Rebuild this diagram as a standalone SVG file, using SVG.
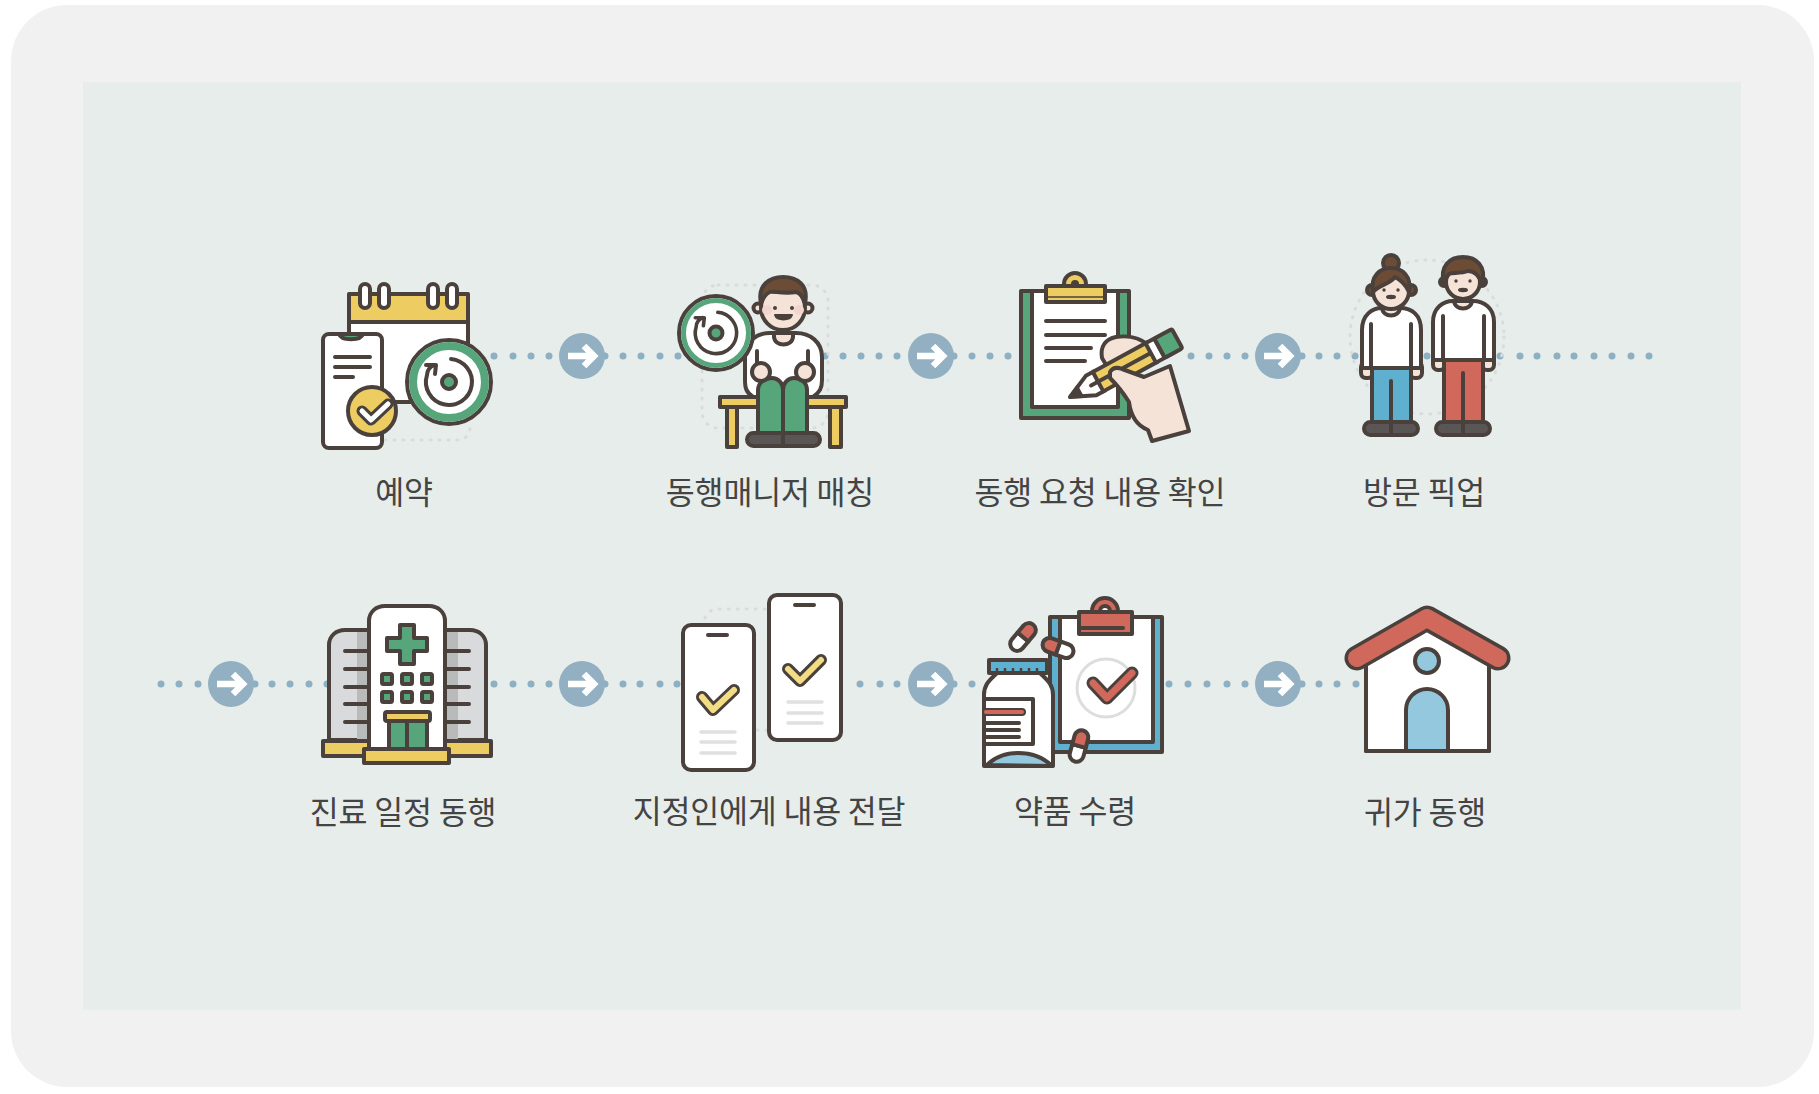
<svg xmlns="http://www.w3.org/2000/svg" width="1819" height="1094" viewBox="0 0 1819 1094">
<style>
.s{stroke:#4a413d;stroke-width:4;stroke-linejoin:round;stroke-linecap:round}
.n{fill:none}
.w{fill:#fff}
.y{fill:#edcd62}
.g{fill:#57a57b}
.k{fill:#f5e3d7}
.b{fill:#5fb0cf}
.lb{fill:#94c8de}
.r{fill:#d0695c}
.h{fill:#6d4c36}
.sh{fill:#5a5656}
.d{fill:#4a413d}
.gd{fill:none;stroke:#d9dcdb;stroke-width:3;stroke-dasharray:1 8;stroke-linecap:round}
.gl{stroke:#dfe0df;stroke-width:3.5;stroke-linecap:round;fill:none}
.t{font-family:"Noto Sans CJK KR","Noto Sans",sans-serif;font-size:31.5px;fill:#444;text-anchor:middle;letter-spacing:-.2px}
.dots circle{fill:#8db0c2}
</style>
<defs>
<g id="badge"><circle r="23" fill="#92b0c2"/><path d="M-14,0H11M2,-10L12,0L2,10" fill="none" stroke="#fff" stroke-width="6.5" stroke-linejoin="miter"/></g>
<g id="spin"><path class="n" stroke="#4a413d" stroke-width="4" stroke-linecap="round" stroke-linejoin="round" d="M2,-23A23,23 0 1 1 -22,-7C-22,-12 -19,-15 -15,-17M-23,-17L-13,-17L-14,-8"/></g>
<g id="pill"><path class="s w" d="M-7,0V9A7,7 0 0 0 7,9V0Z"/><path class="s r" d="M-7,0V-9A7,7 0 0 1 7,-9V0Z"/></g>
</defs>

<rect x="11" y="5" width="1803" height="1082" rx="56" fill="#f1f1f1"/>
<rect x="83" y="82" width="1658" height="928" fill="#e7edeb"/>

<g id="connectors">
<g class="dots">
<circle cx="494" cy="356" r="3.5"/><circle cx="513" cy="356" r="3.5"/><circle cx="531" cy="356" r="3.5"/><circle cx="549" cy="356" r="3.5"/><circle cx="605" cy="356" r="3.5"/><circle cx="623" cy="356" r="3.5"/><circle cx="641" cy="356" r="3.5"/><circle cx="660" cy="356" r="3.5"/><circle cx="678" cy="356" r="3.5"/>
<circle cx="825" cy="356" r="3.5"/><circle cx="843" cy="356" r="3.5"/><circle cx="861" cy="356" r="3.5"/><circle cx="879" cy="356" r="3.5"/><circle cx="897" cy="356" r="3.5"/><circle cx="954" cy="356" r="3.5"/><circle cx="972" cy="356" r="3.5"/><circle cx="990" cy="356" r="3.5"/><circle cx="1008" cy="356" r="3.5"/>
<circle cx="1191" cy="356" r="3.5"/><circle cx="1209" cy="356" r="3.5"/><circle cx="1227" cy="356" r="3.5"/><circle cx="1245" cy="356" r="3.5"/><circle cx="1302" cy="356" r="3.5"/><circle cx="1319" cy="356" r="3.5"/><circle cx="1337" cy="356" r="3.5"/><circle cx="1355" cy="356" r="3.5"/><circle cx="1427" cy="356" r="3.5"/><circle cx="1500" cy="356" r="3.5"/><circle cx="1520" cy="356" r="3.5"/><circle cx="1537" cy="356" r="3.5"/><circle cx="1557" cy="356" r="3.5"/><circle cx="1574" cy="356" r="3.5"/><circle cx="1594" cy="356" r="3.5"/><circle cx="1612" cy="356" r="3.5"/><circle cx="1631" cy="356" r="3.5"/><circle cx="1649" cy="356" r="3.5"/>
<circle cx="161" cy="684" r="3.5"/><circle cx="179" cy="684" r="3.5"/><circle cx="198" cy="684" r="3.5"/><circle cx="255" cy="684" r="3.5"/><circle cx="272" cy="684" r="3.5"/><circle cx="290" cy="684" r="3.5"/><circle cx="309" cy="684" r="3.5"/><circle cx="327" cy="684" r="3.5"/>
<circle cx="494" cy="684" r="3.5"/><circle cx="513" cy="684" r="3.5"/><circle cx="531" cy="684" r="3.5"/><circle cx="549" cy="684" r="3.5"/><circle cx="605" cy="684" r="3.5"/><circle cx="623" cy="684" r="3.5"/><circle cx="640" cy="684" r="3.5"/><circle cx="660" cy="684" r="3.5"/><circle cx="677" cy="684" r="3.5"/>
<circle cx="860" cy="684" r="3.5"/><circle cx="880" cy="684" r="3.5"/><circle cx="897" cy="684" r="3.5"/><circle cx="954" cy="684" r="3.5"/><circle cx="972" cy="684" r="3.5"/>
<circle cx="1169" cy="684" r="3.5"/><circle cx="1188" cy="684" r="3.5"/><circle cx="1207" cy="684" r="3.5"/><circle cx="1227" cy="684" r="3.5"/><circle cx="1245" cy="684" r="3.5"/><circle cx="1302" cy="684" r="3.5"/><circle cx="1319" cy="684" r="3.5"/><circle cx="1337" cy="684" r="3.5"/><circle cx="1356" cy="684" r="3.5"/>
</g>
<use href="#badge" x="582" y="356"/><use href="#badge" x="931" y="356"/><use href="#badge" x="1278" y="356"/>
<use href="#badge" x="231" y="684"/><use href="#badge" x="582" y="684"/><use href="#badge" x="931" y="684"/><use href="#badge" x="1278" y="684"/>
</g>

<g id="node-1">
<path class="gd" d="M385,440H458Q468,440 470,428"/>
<rect class="s w" x="349" y="294" width="119" height="108" rx="2"/>
<rect class="s y" x="349" y="294" width="119" height="28"/>
<g class="s w"><rect x="360" y="284" width="10" height="24" rx="5"/><rect x="379" y="284" width="10" height="24" rx="5"/><rect x="428" y="284" width="10" height="24" rx="5"/><rect x="447" y="284" width="10" height="24" rx="5"/></g>
<rect class="s w" x="323" y="334" width="59" height="114" rx="6"/>
<path class="s g" d="M339,334H363C361,341 341,341 339,334Z"/>
<path class="s n" d="M335,357H370M335,367H370M335,377H353"/>
<circle class="s y" cx="372" cy="411" r="24"/>
<path class="n" stroke="#4a413d" stroke-width="11" stroke-linecap="round" stroke-linejoin="round" d="M362,411L371,420L388,404"/>
<path class="n" stroke="#fff" stroke-width="5" stroke-linecap="round" stroke-linejoin="round" d="M362,411L371,420L388,404"/>
<circle class="s w" cx="449" cy="382" r="42"/>
<circle class="n" stroke="#57a57b" stroke-width="8" cx="449" cy="382" r="36"/>
<use href="#spin" x="449" y="382"/>
<circle class="s g" cx="449" cy="382" r="7"/>
<text class="t" x="404" y="504">예약</text>
</g>

<g id="node-2">
<rect class="gd" x="702" y="285" width="126" height="143" rx="16"/>
<rect class="s y" x="720" y="397" width="126" height="10"/>
<rect class="s y" x="727" y="407" width="10" height="40"/>
<rect class="s y" x="830" y="407" width="11" height="40"/>
<path class="s w" d="M753,397C746,392 745,388 745,380V357C745,342 756,333 770,333H796C810,333 822,342 822,357V380C822,388 820,392 813,397Z"/>
<path class="s k" d="M774,333H793V337C792,347 775,347 774,337Z"/>
<path class="s n" d="M757,351V366M808,351V366"/>
<path class="s g" d="M758,433V390C758,382 766,378 772,378C778,378 783,383 783,390V433Z"/>
<path class="s g" d="M783,433V390C783,383 788,378 794,378C800,378 807,382 807,390V433Z"/>
<rect class="s sh" x="747" y="433" width="73" height="13" rx="6.5"/>
<path class="s n" d="M783,433V446"/>
<circle class="s k" cx="761" cy="372" r="9"/><circle class="s k" cx="805" cy="372" r="9"/>
<circle class="s k" cx="758" cy="308" r="4.5"/><circle class="s k" cx="808" cy="308" r="4.5"/>
<circle class="s k" cx="783" cy="308" r="22"/>
<circle cx="767" cy="310" r="5" fill="#f3d5cf"/><circle cx="799" cy="310" r="5" fill="#f3d5cf"/>
<path class="s h" d="M761,303C757,285 770,277 783,277C797,277 809,285 805,303C803,296 800,293 796,292C785,294 772,291 770,292C765,294 763,298 761,303Z"/>
<circle class="d" cx="775" cy="308" r="2"/><circle class="d" cx="792" cy="308" r="2"/>
<path class="d" stroke="#4a413d" stroke-width="2" stroke-linejoin="round" d="M775,315H792C790,321 777,321 775,315Z"/>
<circle class="s w" cx="716" cy="333" r="37"/>
<circle class="n" stroke="#57a57b" stroke-width="5" cx="716" cy="333" r="32.5"/>
<g transform="translate(716,333) scale(.9)"><use href="#spin"/></g>
<circle class="s g" cx="716" cy="333" r="6.5"/>
<text class="t" x="770" y="504">동행매니저 매칭</text>
</g>

<g id="node-3">
<rect class="s g" x="1021" y="291" width="108" height="127"/>
<rect class="s w" x="1032" y="291" width="86" height="116"/>
<circle class="s y" cx="1075" cy="284" r="11"/><circle class="d" cx="1075" cy="284" r="4"/>
<rect class="s y" x="1046" y="286" width="59" height="16"/>
<path stroke="#4a413d" stroke-width="1.5" d="M1048,297H1103"/>
<path class="s n" d="M1046,321H1105M1046,335H1105M1046,348H1091M1046,361H1085"/>
<path class="s k" d="M1102,358C1100,346 1106,339 1116,337C1128,335 1140,338 1148,345L1130,372L1108,368Z"/>
<g transform="translate(1070,397) rotate(-28.6)">
<path class="s w" d="M0,0L24,-11H34V11H24Z"/>
<path class="d" d="M0,0L11,-5.5V5.5Z" stroke="#4a413d" stroke-width="3" stroke-linejoin="round"/>
<rect class="s y" x="32" y="-11" width="62" height="22"/>
<path class="s n" d="M24,0H94"/>
<rect class="s w" x="92" y="-11" width="10" height="22"/>
<rect class="s g" x="102" y="-11" width="20" height="22" rx="2"/>
</g>
<path class="s k" d="M1110,372C1113,367 1117,367 1122,369L1144,377L1170,366L1189,431L1152,441L1148,430C1138,426 1131,418 1129,402C1124,394 1116,384 1110,378Z"/>
<text class="t" x="1100" y="504">동행 요청 내용 확인</text>
</g>

<g id="node-4">
<circle class="gd" cx="1427" cy="337" r="77"/>
<rect class="s k" x="1361" y="362" width="12" height="16" rx="5"/><rect class="s k" x="1410" y="362" width="12" height="16" rx="5"/>
<path class="s w" d="M1362,368V330C1362,315 1372,308 1382,308H1400C1412,308 1421,315 1421,330V368H1411V368H1372Z"/>
<path class="s n" d="M1371,324V368M1411,324V368"/>
<path class="s k" d="M1382,308H1400C1399,318 1383,318 1382,308Z"/>
<rect class="s b" x="1372" y="368" width="39" height="55"/>
<rect class="s sh" x="1364" y="422" width="54" height="13" rx="6.5"/>
<path class="s n" d="M1391,381V434"/>
<circle class="s h" cx="1391" cy="263" r="8"/>
<circle class="s h" cx="1372" cy="290" r="5"/><circle class="s h" cx="1411" cy="290" r="5"/>
<circle class="s k" cx="1391" cy="291" r="18"/>
<path class="s h" d="M1373,292C1370,276 1380,268 1391,268C1402,268 1412,276 1409,292C1405,283 1399,279 1395,277C1390,284 1379,285 1373,292Z"/>
<circle class="d" cx="1384" cy="290" r="1.7"/><circle class="d" cx="1398" cy="290" r="1.7"/>
<ellipse class="d" cx="1391" cy="297" rx="5" ry="2.2"/>

<rect class="s k" x="1433" y="354" width="12" height="16" rx="5"/><rect class="s k" x="1482" y="354" width="12" height="16" rx="5"/>
<path class="s w" d="M1433,360V322C1433,308 1443,301 1453,301H1473C1484,301 1494,308 1494,322V360Z"/>
<path class="s n" d="M1443,316V360M1484,316V360"/>
<path class="s k" d="M1454,301H1472C1471,311 1455,311 1454,301Z"/>
<rect class="s r" x="1444" y="360" width="39" height="63"/>
<rect class="s sh" x="1436" y="422" width="54" height="13" rx="6.5"/>
<path class="s n" d="M1463,373V434"/>
<circle class="s h" cx="1444" cy="282" r="4"/><circle class="s h" cx="1482" cy="282" r="4"/>
<circle class="s k" cx="1463" cy="282" r="17"/>
<path class="s h" d="M1444,284C1439,266 1450,257 1463,257C1476,257 1487,266 1482,284C1479,275 1474,271 1468,271C1460,274 1452,272 1449,274C1446,277 1445,280 1444,284Z"/>
<circle class="d" cx="1456" cy="281" r="1.7"/><circle class="d" cx="1470" cy="281" r="1.7"/>
<ellipse class="d" cx="1463" cy="290" rx="5" ry="2.2"/>
<text class="t" x="1424" y="504">방문 픽업</text>
</g>

<g id="node-5">
<path class="s" fill="#d9dadb" d="M329,740V645C329,636 336,630 345,630H369V740Z"/>
<rect x="357" y="632" width="11" height="107" fill="#b9bbbb"/>
<path class="s" fill="#d9dadb" d="M486,740V645C486,636 479,630 470,630H445V740Z"/>
<rect x="447" y="632" width="11" height="107" fill="#b9bbbb"/>
<path class="s n" d="M345,651H369M345,669H369M345,687H369M345,704H369M345,722H369M445,651H469M445,669H469M445,687H469M445,704H469M445,722H469"/>
<rect class="s y" x="323" y="741" width="168" height="15"/>
<path class="s w" d="M369,749V621C369,612 376,606 385,606H429C438,606 445,612 445,621V749Z"/>
<path class="s g" d="M400,625H414V638H427V651H414V664H400V651H387V638H400Z"/>
<g class="s g"><rect x="382" y="674" width="10" height="10" rx="1.5"/><rect x="402" y="674" width="10" height="10" rx="1.5"/><rect x="422" y="674" width="10" height="10" rx="1.5"/><rect x="382" y="692" width="10" height="10" rx="1.5"/><rect x="402" y="692" width="10" height="10" rx="1.5"/><rect x="422" y="692" width="10" height="10" rx="1.5"/></g>
<rect class="s g" x="389" y="720" width="38" height="29"/>
<path class="s n" d="M407,720V749"/>
<rect class="s y" x="385" y="712" width="45" height="9" rx="2"/>
<rect class="s y" x="364" y="749" width="85" height="14"/>
<text class="t" x="403" y="824">진료 일정 동행</text>
</g>

<g id="node-6">
<path class="gd" d="M705,618Q708,609 720,609H765M757,730H768"/>
<rect class="s w" x="683" y="625" width="71" height="145" rx="8"/>
<path class="s n" d="M708,635H727"/>
<path class="n" stroke="#4a413d" stroke-width="12" stroke-linecap="round" stroke-linejoin="round" d="M702,697L713,710L734,690"/>
<path class="n" stroke="#f2dd85" stroke-width="6" stroke-linecap="round" stroke-linejoin="round" d="M702,697L713,710L734,690"/>
<path class="gl" d="M701,732H735M701,742H735M701,753H735"/>
<rect class="s w" x="769" y="595" width="72" height="145" rx="8"/>
<path class="s n" d="M795,605H814"/>
<path class="n" stroke="#4a413d" stroke-width="12" stroke-linecap="round" stroke-linejoin="round" d="M788,669L800,681L821,660"/>
<path class="n" stroke="#f2dd85" stroke-width="6" stroke-linecap="round" stroke-linejoin="round" d="M788,669L800,681L821,660"/>
<path class="gl" d="M788,702H822M788,713H822M788,723H822"/>
<text class="t" x="769" y="823">지정인에게 내용 전달</text>
</g>

<g id="node-7">
<rect class="s b" x="1050" y="617" width="112" height="135"/>
<rect class="s w" x="1060" y="617" width="93" height="125"/>
<circle class="s r" cx="1105" cy="611" r="13"/><circle class="s w" cx="1105" cy="611" r="5"/>
<rect class="s r" x="1079" y="612" width="53" height="22"/>
<path class="s n" d="M1081,628H1123"/>
<circle class="n" stroke="#dcdedd" stroke-width="3" cx="1106" cy="688" r="29"/>
<path class="n" stroke="#4a413d" stroke-width="13" stroke-linecap="round" stroke-linejoin="round" d="M1093,683L1107,698L1132,673"/>
<path class="n" stroke="#d0695c" stroke-width="7" stroke-linecap="round" stroke-linejoin="round" d="M1093,683L1107,698L1132,673"/>
<g transform="translate(1023,637) rotate(40)"><use href="#pill"/></g>
<g transform="translate(1058,648) rotate(-70)"><use href="#pill"/></g>
<g transform="translate(1079,746) rotate(15)"><use href="#pill"/></g>
<path class="s w" d="M997,673C990,680 984,684 984,695V766H1053V695C1053,684 1047,680 1040,673Z"/>
<path class="s lb" d="M987,765C996,756 1006,753 1018,753C1031,753 1043,757 1052,766Z"/>
<rect class="s w" x="984" y="699" width="49" height="45"/>
<path class="n" stroke="#4a413d" stroke-width="8" stroke-linecap="round" d="M986,712H1022"/>
<path class="n" stroke="#d0695c" stroke-width="4" stroke-linecap="round" d="M986,712H1022"/>
<path class="s n" d="M985,723H1019M985,730H1019M985,737H1019"/>
<rect class="s b" x="989" y="660" width="58" height="13"/>
<path class="n" stroke="#4a413d" stroke-width="2.5" d="M997,673V668M1005,673V668M1013,673V668M1021,673V668M1029,673V668M1037,673V668"/>
<text class="t" x="1075" y="823">약품 수령</text>
</g>

<g id="node-8">
<path class="s w" d="M1366,660L1427,625L1489,660V751H1366Z"/>
<circle class="s lb" cx="1427" cy="661" r="12"/>
<path class="s lb" d="M1406,751V710A21,21 0 0 1 1448,710V751Z"/>
<path class="s n" d="M1366,751H1489"/>
<path class="n" stroke="#4a413d" stroke-width="25" stroke-linecap="round" stroke-linejoin="round" d="M1357,658L1427,618L1498,658"/>
<path class="n" stroke="#d0695c" stroke-width="18" stroke-linecap="round" stroke-linejoin="round" d="M1357,658L1427,618L1498,658"/>
<text class="t" x="1425" y="824">귀가 동행</text>
</g>
</svg>
